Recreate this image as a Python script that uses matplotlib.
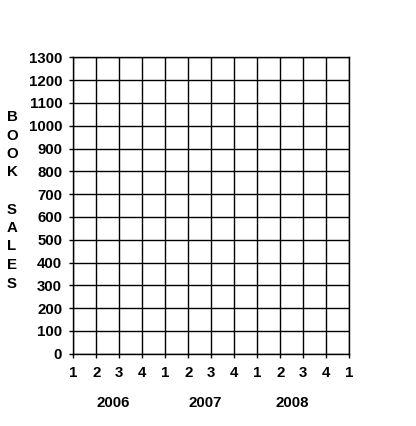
import matplotlib
matplotlib.use("Agg")
import matplotlib.pyplot as plt
import matplotlib.transforms as mtransforms

# Data / labels
y_ticks = list(range(0, 1301, 100))
x_tick_labels = ["1", "2", "3", "4", "1", "2", "3", "4", "1", "2", "3", "4", "1"]
years = ["2006", "2007", "2008"]
year_positions = [1.73, 5.73, 9.53]   # in quarter-tick units
ylabel_text = "BOOK SALES"

plt.rcParams['font.family'] = ['Liberation Sans', 'DejaVu Sans']
FS = 10.8

fig = plt.figure(figsize=(4.16, 4.26), dpi=100)
W, H = 416, 426
left, right, top, bottom = 73.3, 349.3, 57.3, 353.8
ax = fig.add_axes([left / W, 1 - bottom / H, (right - left) / W, (bottom - top) / H])

n = len(x_tick_labels)
ax.set_xlim(0, n - 1)
ax.set_ylim(y_ticks[0], y_ticks[-1])
ax.set_xticks(range(n))
ax.set_xticklabels(x_tick_labels, fontsize=FS, fontweight='bold')
ax.set_yticks(y_ticks)
ax.set_yticklabels([str(v) for v in y_ticks], fontsize=FS, fontweight='bold')
ax.tick_params(axis='both', direction='out', length=3, width=1.0, color='black')
ax.tick_params(axis='x', pad=6)
ax.tick_params(axis='y', pad=5)
ax.grid(True, color='black', linewidth=1.0)
ax.set_axisbelow(False)
for s in ax.spines.values():
    s.set_linewidth(1.0)
    s.set_color('black')

# Year labels below the quarter labels
trans = mtransforms.blended_transform_factory(ax.transData, fig.transFigure)
for yr, xp in zip(years, year_positions):
    ax.text(xp, 1 - 403 / H, yr, transform=trans, ha='center', va='center',
            fontsize=FS, fontweight='bold')

# Vertical stacked y label
y0 = 117
step = 18.5
for i, ch in enumerate(ylabel_text):
    if ch == ' ':
        continue
    fig.text(12 / W, 1 - (y0 + i * step) / H, ch, ha='center', va='center',
             fontsize=FS, fontweight='bold')

fig.savefig("out.png", dpi=100)
